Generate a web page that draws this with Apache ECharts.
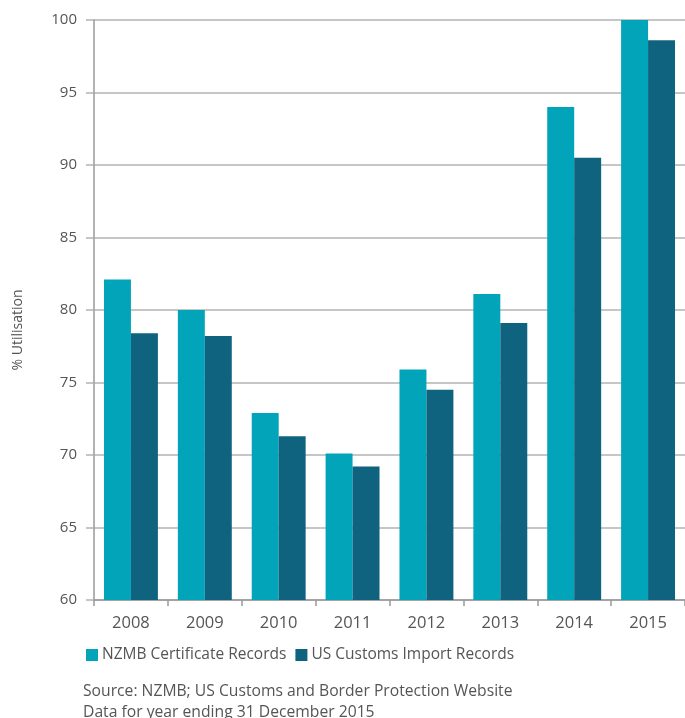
<!DOCTYPE html>
<html>
<head>
<meta charset="utf-8">
<script src="https://cdn.jsdelivr.net/npm/echarts@6/dist/echarts.min.js"></script>
<style>
  html, body { margin: 0; padding: 0; background: #fff; }
  #chart { width: 685px; height: 718px; }
</style>
</head>
<body>
<div id="chart"></div>
<script>
// Years on the category axis
const years = ['2008', '2009', '2010', '2011', '2012', '2013', '2014', '2015'];
// Utilisation (%) by source
const nzmbRecords = [82.1, 80.0, 72.9, 70.1, 75.9, 81.1, 94.0, 100.0];
const usCustomsRecords = [78.4, 78.2, 71.3, 69.2, 74.5, 79.1, 90.5, 98.6];
const seriesNames = ['NZMB Certificate Records', 'US Customs Import Records'];
const yAxisTitle = '% Utilisation';
const sourceLines = [
  'Source: NZMB; US Customs and Border Protection Website',
  'Data for year ending 31 December 2015'
];

const FONT = 'Open Sans';
const TEXT = '#555';
const GRID = '#b3b3b3';

const chart = echarts.init(document.getElementById('chart'), null, { renderer: 'canvas' });
chart.setOption({
  animation: false,
  textStyle: { fontFamily: FONT },
  title: {
    left: 83,
    top: 681,
    padding: 0,
    text: sourceLines.join('\n'),
    textStyle: { fontFamily: FONT, fontSize: 15.7, fontWeight: 'normal', color: TEXT, lineHeight: 21 }
  },
  legend: {
    left: 81,
    top: 642,
    itemWidth: 12,
    itemHeight: 12,
    itemGap: 9,
    icon: 'rect',
    data: seriesNames,
    textStyle: { fontFamily: FONT, fontSize: 15.5, color: TEXT, padding: [0, 0, 0, -1] }
  },
  // vertical axis title, placed on its own
  graphic: [{
    type: 'text',
    x: 18,
    y: 330,
    rotation: Math.PI / 2,
    style: {
      text: yAxisTitle,
      fill: TEXT,
      font: '14px "Open Sans"',
      align: 'center',
      verticalAlign: 'middle'
    }
  }],
  grid: { left: 94, right: 0, top: 20, bottom: 118, containLabel: false },
  xAxis: {
    type: 'category',
    data: years,
    boundaryGap: true,
    axisLine: { lineStyle: { color: '#999', width: 1.5 } },
    axisTick: { show: true, length: 6, lineStyle: { color: '#999', width: 1.5 } },
    axisLabel: { color: TEXT, fontSize: 16.5, margin: 15, fontFamily: FONT }
  },
  yAxis: {
    type: 'value',
    min: 60,
    max: 100,
    interval: 5,
    axisLine: { show: true, lineStyle: { color: '#999', width: 1.5 } },
    axisTick: { show: true, length: 8, lineStyle: { color: GRID, width: 1.5 } },
    axisLabel: { color: TEXT, fontSize: 15, margin: 17, fontFamily: FONT },
    splitLine: { show: true, lineStyle: { color: GRID, width: 1.5 } }
  },
  series: [
    {
      name: seriesNames[0],
      type: 'bar',
      data: nzmbRecords,
      itemStyle: { color: '#01a4b9' },
      barGap: '0%',
      barCategoryGap: '27%'
    },
    {
      name: seriesNames[1],
      type: 'bar',
      data: usCustomsRecords,
      itemStyle: { color: '#10637e' }
    }
  ]
});
</script>
</body>
</html>
